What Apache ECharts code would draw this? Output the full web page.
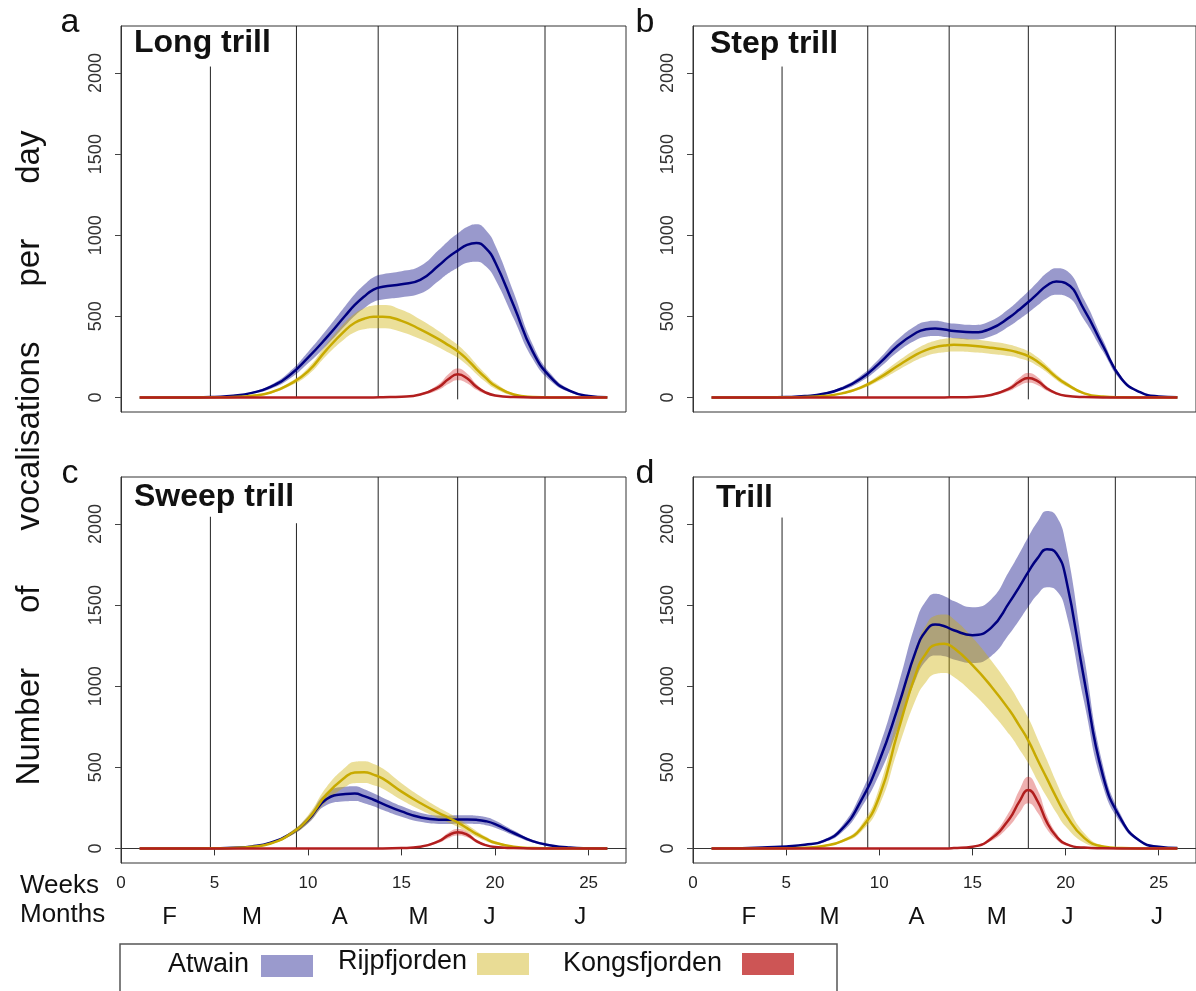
<!DOCTYPE html>
<html><head><meta charset="utf-8">
<script src="https://cdn.jsdelivr.net/npm/echarts@6/dist/echarts.min.js"></script>
<style>html,body{margin:0;padding:0;background:#fff}#c{width:1196px;height:991px}</style>
</head><body><div id="c"></div>
<script>
// ---------- data ----------
const weeks = [1,2,3,4,5,6,7,8,9,10,11,12,12.5,13,13.5,14,15,16,17,17.5,18,18.5,19,19.5,20,21,22,23,24,25,26];

// a – Long trill
const longAtwain   = [0,0,0,0,3,10,28,65,135,245,370,505,570,622,665,682,698,725,815,865,905,940,952,920,835,565,285,120,40,9,1];
const longAtwainCI = [0,0,0,0,1,3,6,12,22,35,48,60,66,72,76,78,80,85,95,100,105,110,115,112,105,80,45,22,8,2,0];
const longRijp     = [0,0,0,0,1,3,10,30,80,160,295,415,460,485,497,498,472,420,358,322,285,235,175,120,72,18,3,0,0,0,0];
const longRijpCI   = [0,0,0,0,0,1,3,6,12,22,35,50,58,65,70,72,68,60,50,45,40,35,30,25,18,6,1,0,0,0,0];
const longKongs    = [0,0,0,0,0,0,0,0,0,0,0,0,0,0,0,1,4,18,65,112,142,118,65,30,12,2,0,0,0,0,0];
const longKongsCI  = [0,0,0,0,0,0,0,0,0,0,0,0,0,0,0,0,1,5,18,30,36,30,18,9,4,1,0,0,0,0,0];

// b – Step trill
const stepAtwain   = [0,0,0,0,2,8,22,55,115,210,320,400,420,425,418,410,402,425,495,540,588,640,690,715,705,540,320,115,32,6,1];
const stepAtwainCI = [0,0,0,0,1,2,5,10,18,28,38,45,46,47,46,45,45,48,55,60,66,72,78,82,80,62,36,14,4,1,0];
const stepRijp     = [0,0,0,0,1,3,8,25,60,120,195,265,292,310,320,325,318,306,290,275,255,220,175,125,85,25,5,1,0,0,0];
const stepRijpCI   = [0,0,0,0,0,1,2,5,10,18,28,35,38,40,42,42,40,38,35,33,30,27,22,18,14,5,1,0,0,0,0];
const stepKongs    = [0,0,0,0,0,0,0,0,0,0,0,0,0,0,0,1,3,15,55,95,120,100,55,25,10,2,0,0,0,0,0];
const stepKongsCI  = [0,0,0,0,0,0,0,0,0,0,0,0,0,0,0,0,1,4,14,24,30,25,14,7,3,1,0,0,0,0,0];

// c – Sweep trill
const sweepAtwain   = [0,0,0,0,1,4,12,35,85,175,305,335,338,322,300,275,228,192,177,176,178,178,176,168,150,95,45,18,5,1,0];
const sweepAtwainCI = [0,0,0,0,0,1,3,6,12,22,38,45,45,43,40,38,33,28,26,26,26,26,26,25,22,15,8,4,1,0,0];
const sweepRijp     = [0,0,0,0,1,3,10,30,85,180,335,440,468,470,455,430,350,280,218,190,160,125,90,60,35,10,2,0,0,0,0];
const sweepRijpCI   = [0,0,0,0,0,1,2,5,12,25,45,60,66,67,66,62,52,42,33,30,26,22,18,14,10,4,1,0,0,0,0];
const sweepKongs    = [0,0,0,0,0,0,0,0,0,0,0,0,0,0,0,0,2,10,45,80,100,85,45,20,8,2,0,0,0,0,0];
const sweepKongsCI  = [0,0,0,0,0,0,0,0,0,0,0,0,0,0,0,0,0,3,10,17,20,17,10,5,2,0,0,0,0,0,0];

// d – Trill
const trillAtwain   = [0,1,3,7,12,22,45,120,290,540,870,1230,1340,1380,1370,1345,1315,1360,1520,1610,1705,1790,1845,1820,1675,1040,450,175,45,10,2];
const trillAtwainCI = [0,0,0,1,2,4,8,20,45,85,130,175,185,190,185,180,172,175,195,205,215,225,235,230,210,140,65,25,6,1,0];
const trillRijp     = [0,0,0,0,1,4,15,45,120,320,720,1090,1200,1255,1262,1235,1130,1000,850,760,665,545,430,315,210,65,12,2,0,0,0];
const trillRijpCI   = [0,0,0,0,0,1,3,8,20,55,110,160,175,180,180,178,170,160,150,145,140,130,115,95,75,30,6,1,0,0,0];
const trillKongs    = [0,0,0,0,0,0,0,0,0,0,0,0,0,0,0,2,10,60,185,285,360,290,160,75,28,5,1,0,0,0,0];
const trillKongsCI  = [0,0,0,0,0,0,0,0,0,0,0,0,0,0,0,0,3,15,45,70,82,70,42,20,8,1,0,0,0,0,0];

const panelTitles  = ['Long trill','Step trill','Sweep trill','Trill'];
const panelLetters = ['a','b','c','d'];
const siteNames    = ['Atwain','Rijpfjorden','Kongsfjorden'];
const yTicks       = [0,500,1000,1500,2000];
const weekTicks    = [0,5,10,15,20,25];
const monthLabels  = ['F','M','A','M','J','J'];
const monthPosC    = [2.6,7.0,11.7,15.9,19.7,24.55];
const monthPosD    = [3.0,7.33,12.0,16.3,20.1,24.9];
const monthLines   = [4.78,9.38,13.75,18.0,22.67];
const lineTopsTop  = [2040,2290,2290,2290,2290];
const lineTopsC    = [2045,2005,2290,2290,2290];
const lineBotsTop  = [0,0,0,-12,0];
const lineBotsBot  = [0,0,0,0,0];

// ---------- styling ----------
const FONT = '"Liberation Sans", Arial, sans-serif';
const lineColors = ['#000080','#c8aa00','#b21e1e'];
const bandColors = ['rgba(0,0,128,0.40)','rgba(205,175,0,0.40)','rgba(210,30,30,0.35)'];
const swatchColors = ['#9a9acd','#e9dc95','#cd5555'];
const SMOOTH = 0.5;

const grids = [
  {left:121, top:26,  width:505, height:386},
  {left:693, top:26,  width:504, height:386},
  {left:121, top:477, width:505, height:386},
  {left:693, top:477, width:504, height:386}
];
const panelData = [
  [[longAtwain,longAtwainCI],[longRijp,longRijpCI],[longKongs,longKongsCI]],
  [[stepAtwain,stepAtwainCI],[stepRijp,stepRijpCI],[stepKongs,stepKongsCI]],
  [[sweepAtwain,sweepAtwainCI],[sweepRijp,sweepRijpCI],[sweepKongs,sweepKongsCI]],
  [[trillAtwain,trillAtwainCI],[trillRijp,trillRijpCI],[trillKongs,trillKongsCI]]
];

const xAxes = [], yAxes = [], series = [];
grids.forEach((g, p) => {
  const bottom = p >= 2;
  xAxes.push({
    gridIndex:p, type:'value', min:0, max:27, position:'bottom',
    show: bottom,
    axisLine:{show:true, lineStyle:{color:'#333', width:1}},
    axisTick:{show:true, customValues:weekTicks, length:7, lineStyle:{color:'#333'}},
    axisLabel:{show:true, customValues:weekTicks, fontSize:17, color:'#222', margin:12, fontFamily:FONT,
      formatter:(v)=>String(v)},
    splitLine:{show:false}
  });
  yAxes.push({
    gridIndex:p, type:'value', min:-90, max:2290,
    axisLine:{show:true, lineStyle:{color:'#333', width:1}},
    axisTick:{show:true, customValues:yTicks, length:6, lineStyle:{color:'#444'}},
    axisLabel:{customValues:yTicks, rotate:90, fontSize:18, color:'#333', margin:16, fontFamily:FONT,
      formatter:(v)=>String(v)},
    splitLine:{show:false}
  });
});
[[2, monthPosC],[3, monthPosD]].forEach(([p, pos]) => {
  xAxes.push({
    gridIndex:p, type:'value', min:0, max:27, position:'bottom',
    axisLine:{show:false}, axisTick:{show:false}, splitLine:{show:false},
    axisLabel:{customValues:pos, fontSize:24, color:'#111', margin:42, fontFamily:FONT,
      formatter:(v)=>{ const i = pos.findIndex(q=>Math.abs(q-v)<1e-6); return i>=0 ? monthLabels[i] : ''; }}
  });
});

grids.forEach((g, p) => {
  const tops = p === 2 ? lineTopsC : lineTopsTop;
  const bots = p >= 2 ? lineBotsBot : lineBotsTop;
  monthLines.forEach((x, j) => {
    series.push({type:'line', xAxisIndex:p, yAxisIndex:p, silent:true, symbol:'none', z:2,
      data:[[x, bots[j]],[x, tops[j]]], lineStyle:{color:'#222', width:1}});
  });
  panelData[p].forEach(([mean, ci], s) => {
    const lo = mean.map((m,i)=>Math.max(0, m-ci[i]));
    const hi = mean.map((m,i)=>m+ci[i]);
    const stack = 'p'+p+'s'+s;
    // value first so that the stack is applied to the y values
    series.push({type:'line', name:siteNames[s], xAxisIndex:p, yAxisIndex:p, stack, symbol:'none', silent:true, z:3,
      encode:{x:1, y:0}, smooth:SMOOTH, lineStyle:{opacity:0}, data:weeks.map((w,i)=>[lo[i], w])});
    series.push({type:'line', name:siteNames[s], xAxisIndex:p, yAxisIndex:p, stack, symbol:'none', silent:true, z:3,
      encode:{x:1, y:0}, smooth:SMOOTH, lineStyle:{opacity:0}, areaStyle:{color:bandColors[s], opacity:1},
      data:weeks.map((w,i)=>[hi[i]-lo[i], w])});
    series.push({type:'line', name:siteNames[s], xAxisIndex:p, yAxisIndex:p, symbol:'none', silent:true, z:3,
      smooth:SMOOTH, lineStyle:{color:lineColors[s], width:2.5},
      data:weeks.map((w,i)=>[w, mean[i]])});
  });
});

// ---------- text / legend graphics ----------
const graphic = [];
const letterPos = [[70,23],[645,23],[70,474],[645,474]];
const titlePos  = [[134,43],[710,44],[134,497],[716,498]];
panelLetters.forEach((L,i)=>graphic.push({type:'text', x:letterPos[i][0], y:letterPos[i][1],
  style:{text:L, fontSize:34, fontFamily:FONT, fill:'#111', align:'center', verticalAlign:'middle'}}));
panelTitles.forEach((t,i)=>graphic.push({type:'text', x:titlePos[i][0], y:titlePos[i][1],
  style:{text:t, fontSize:32, fontWeight:'bold', fontFamily:FONT, fill:'#111', align:'left', verticalAlign:'middle'}}));
graphic.push({type:'text', x:30, y:458, rotation:Math.PI/2,
  style:{text:'Number      of      vocalisations      per      day', fontSize:33, fontFamily:FONT, fill:'#111', align:'center', verticalAlign:'middle'}});
graphic.push({type:'text', x:20, y:886, style:{text:'Weeks', fontSize:26, fontFamily:FONT, fill:'#111', align:'left', verticalAlign:'middle'}});
graphic.push({type:'text', x:20, y:915, style:{text:'Months', fontSize:26, fontFamily:FONT, fill:'#111', align:'left', verticalAlign:'middle'}});
graphic.push({type:'rect', shape:{x:120, y:944, width:717, height:80}, style:{fill:'none', stroke:'#555', lineWidth:1.5}});
const legText = [[168,965],[338,962],[563,964]];
const legSw   = [[261,955],[477,953],[742,953]];
siteNames.forEach((n,i)=>{
  graphic.push({type:'text', x:legText[i][0], y:legText[i][1], style:{text:n, fontSize:27, fontFamily:FONT, fill:'#111', align:'left', verticalAlign:'middle'}});
  graphic.push({type:'rect', shape:{x:legSw[i][0], y:legSw[i][1], width:52, height:22}, style:{fill:swatchColors[i]}});
});

const chart = echarts.init(document.getElementById('c'), null, {renderer:'canvas'});
chart.setOption({
  animation:false,
  backgroundColor:'#fff',
  textStyle:{fontFamily:FONT},
  grid: grids.map(g=>Object.assign({show:true, borderColor:'#333', borderWidth:1, containLabel:false}, g)),
  xAxis:xAxes, yAxis:yAxes, series, graphic
});
</script></body></html>
